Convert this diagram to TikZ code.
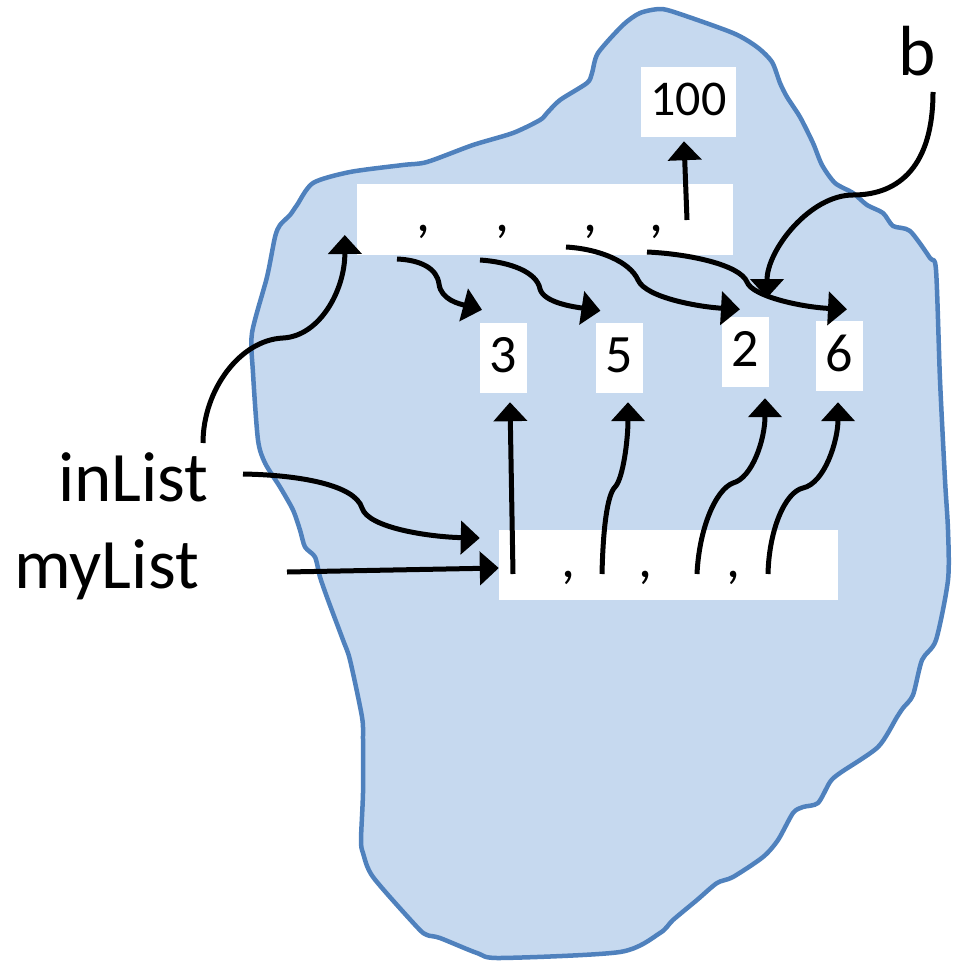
\documentclass[tikz,border=0pt]{standalone}
\usepackage{fontspec}
\setmainfont{Carlito}
\usetikzlibrary{arrows.meta,calc}
\definecolor{blobfill}{RGB}{198,217,239}
\definecolor{blobline}{RGB}{79,129,189}
\begin{document}
\begin{tikzpicture}[x=1pt,y=-1pt,
  link/.style={line width=5pt,-{Triangle[length=19pt,width=33pt]}},
  cell/.style={fill=white,inner sep=0pt,minimum width=47pt,minimum height=70pt,
    text depth=6pt,font=\fontsize{54}{64}\selectfont},
  listbox/.style={fill=white,inner sep=0pt},
  sepmark/.style={inner sep=0pt,font=\fontsize{56}{66}\selectfont},
  varname/.style={inner sep=0pt,font=\fontsize{71}{84}\selectfont}]
\useasboundingbox (0,0) rectangle (959,963);

% memory region
\filldraw[fill=blobfill,draw=blobline,line width=4.5pt,line join=round]
  plot[smooth cycle,tension=0.45] coordinates {
  (660,9) (677,13) (733,33) (757,47) (772,62) (780,83) (787,97) (800,117)
  (813,143) (822,165) (835,183) (853,193) (867,205) (883,213) (893,226)
  (910,231) (930,258) (936,270) (940,380) (945,480) (948,530) (948,580)
  (936,640) (922,660) (913,695) (903,708) (897,717) (878,747) (840,773)
  (830,782) (818,803) (803,807) (793,813) (778,840) (763,857) (733,877)
  (717,883) (697,900) (673,920) (660,933) (620,952) (500,958) (477,953)
  (440,938) (427,935) (417,927) (373,877) (363,853) (361,840) (363,793)
  (363,740) (362,717) (350,660) (343,640) (328,600) (320,577) (315,557)
  (305,547) (300,530) (293,510) (280,487) (265,463) (258,440) (253,373)
  (252,333) (267,277) (275,237) (280,225) (290,215) (297,205) (313,183)
  (350,172) (403,165) (427,162) (473,145) (513,133) (540,120) (547,113)
  (560,100) (587,83) (592,73) (598,53) (623,25) (640,13)};

% list objects
\node[listbox,minimum width=376pt,minimum height=71pt] (topList) at (545,219.5) {};
\node[listbox,minimum width=339pt,minimum height=70pt] (botList) at (668.5,565) {};

% element objects
\node[cell,minimum width=95pt,font=\fontsize{50}{60}\selectfont] (v100) at (688.5,102) {100};
\node[cell] (v3) at (503.5,358) {3};
\node[cell] (v5) at (619.5,358) {5};
\node[cell] (v2) at (745.5,352) {2};
\node[cell] (v6) at (839.5,356) {6};

% separators inside the lists
\node[sepmark] (ca) at (423,232) {,};
\node[sepmark] (cb) at (502,232) {,};
\node[sepmark] (cc) at (590,232) {,};
\node[sepmark] (cd) at (656,232) {,};
\node[sepmark] (ce) at (568,578) {,};
\node[sepmark] (cf) at (645,578) {,};
\node[sepmark] (cg) at (733,578) {,};

% variable names
\node[varname,anchor=base east] (inList) at (209,501) {inList};
\node[varname,anchor=base east] (myList) at (199,588) {myList};
\node[varname,anchor=base east] (bname) at (936,76) {b};

% slot origins
\coordinate (t0) at (687,220);
\coordinate (t1) at (397,259);
\coordinate (t2) at (480,260);
\coordinate (t3) at (566,247);
\coordinate (t4) at (647,252);
\coordinate (u1) at (513,574);
\coordinate (u2) at (602,574);
\coordinate (u3) at (697,574);
\coordinate (u4) at (768,574);
\coordinate (inA) at (203,443);
\coordinate (inB) at (243,474);
\coordinate (myA) at (287,572);
\coordinate (bfoot) at (933,92);
\coordinate (btip) at (767,298);

% references held by the lower list
\draw[link] (u1) -- ([xshift=6.5pt,yshift=-9pt]v3.south);
\draw[link] (u2) .. controls (603,530) and (607,495) .. (615,487)
  .. controls (623,479) and (628,440) .. ([xshift=8.5pt,yshift=-9pt]v5.south);
\draw[link] (u3) .. controls (699,530) and (715,490) .. (733,483)
  .. controls (752,478) and (765,440) .. ([xshift=19.5pt,yshift=-11pt]v2.south);
\draw[link] (u4) .. controls (769,530) and (785,492) .. (803,488)
  .. controls (825,483) and (838,440) .. ([xshift=-1.5pt,yshift=-11pt]v6.south);

% references held by the upper list
\draw[link] (t0) -- ([xshift=-4.5pt,yshift=-4pt]v100.south);
\draw[link] (t1) .. controls (420,260) and (437,268) .. (439,284)
  .. controls (441,300) and (460,304) .. ([xshift=-21.5pt,yshift=13pt]v3.north);
\draw[link] (t2) .. controls (510,262) and (537,272) .. (540,289)
  .. controls (544,303) and (575,307) .. ([xshift=-19pt,yshift=12pt]v5.north);
\draw[link] (t3) .. controls (600,249) and (630,262) .. (638,280)
  .. controls (646,298) and (700,307) .. ([xshift=-5.5pt,yshift=7.5pt]v2.north);
\draw[link] (t4) .. controls (690,254) and (740,265) .. (747,282)
  .. controls (752,296) and (800,307) .. ([xshift=7.5pt,yshift=11.5pt]v6.north);

% names bound to the lists
\draw[link] (inA) .. controls (203,390) and (240,340) .. (283,338)
  .. controls (320,336) and (345,290) .. ([xshift=-12pt,yshift=-15.5pt]topList.west);
\draw[link] (inB) .. controls (300,475) and (355,485) .. (362,508)
  .. controls (368,528) and (430,537) .. ([xshift=-19pt,yshift=27pt]botList.west);
\draw[link] (myA) -- ([yshift=-3pt]botList.west);
\draw[link] (bfoot) .. controls (933,165) and (900,195) .. (853,195)
  .. controls (810,195) and (767,250) .. (btip);
\end{tikzpicture}
\end{document}
